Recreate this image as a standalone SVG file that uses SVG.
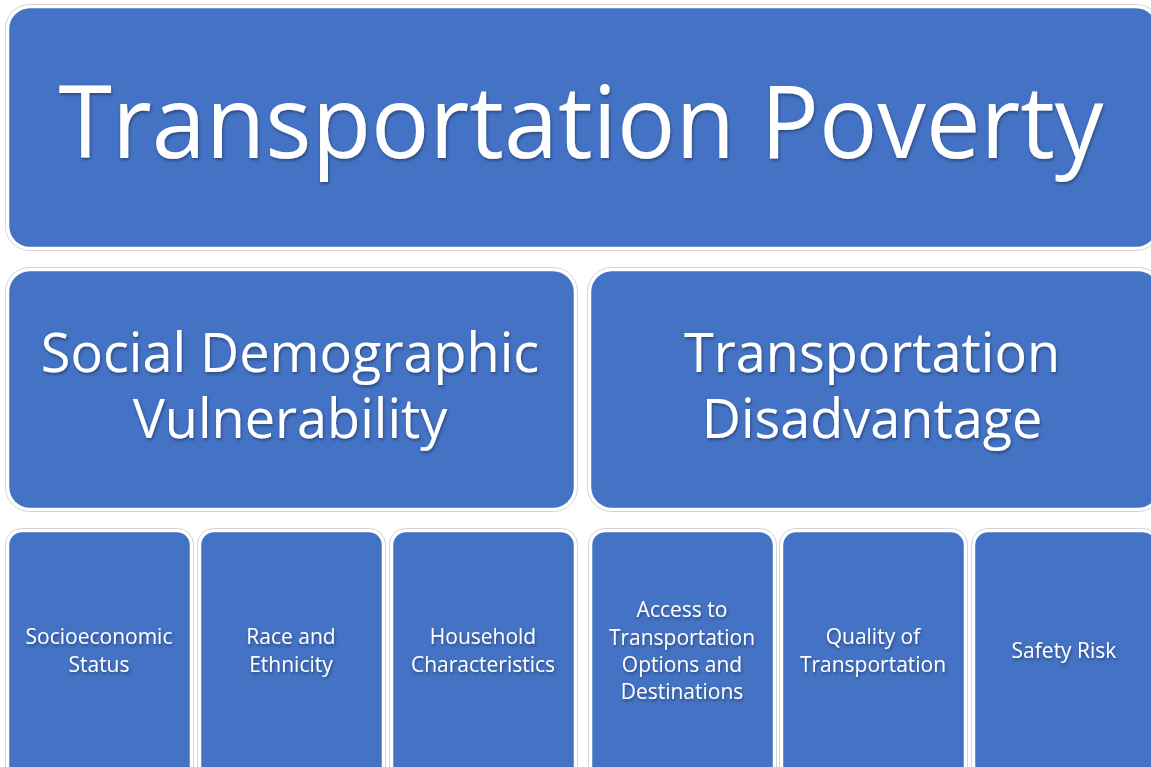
<svg xmlns="http://www.w3.org/2000/svg" width="1151" height="767" viewBox="0 0 1151 767">
  <defs>
    <filter id="ts" x="-5%" y="-20%" width="110%" height="150%">
      <feDropShadow dx="1" dy="2" stdDeviation="1.5" flood-color="#000" flood-opacity="0.35"/>
    </filter>
  </defs>
  <style>
    .box { fill: #4472C4; stroke: #ffffff; stroke-width: 2.5; }
    .halo { fill: none; stroke: #d4d4d4; stroke-width: 1; }
    text { font-family: "Open Sans", "Liberation Sans", sans-serif; fill: #ffffff; text-anchor: middle; filter: url(#ts); }
    .t0 { font-size: 100px; }
    .t1 { font-size: 54px; }
    .t2 { font-size: 21px; }
  </style>
  <rect width="1151" height="767" fill="#ffffff"/>
  <g id="connectors"></g>
  <g id="n-top">
    <rect class="halo" x="5.5" y="4.5" width="1155" height="246" rx="24"/>
    <rect class="box" x="8" y="7" width="1150" height="241" rx="22"/>
    <text class="t0" x="581" y="158" textLength="1045" lengthAdjust="spacingAndGlyphs">Transportation Poverty</text>
  </g>
  <g id="n-social">
    <rect class="halo" x="5.5" y="267.5" width="572" height="244" rx="24"/>
    <rect class="box" x="8" y="270" width="567" height="239" rx="22"/>
    <text class="t1" x="290" y="372">Social Demographic</text>
    <text class="t1" x="290" y="438">Vulnerability</text>
  </g>
  <g id="n-disadv">
    <rect class="halo" x="587.5" y="267.5" width="575" height="244" rx="24"/>
    <rect class="box" x="590" y="270" width="570" height="239" rx="22"/>
    <text class="t1" x="872" y="372">Transportation</text>
    <text class="t1" x="872" y="438">Disadvantage</text>
  </g>
  <g id="n-socio">
    <rect class="halo" x="5.5" y="528.5" width="188" height="260" rx="16"/>
    <rect class="box" x="8" y="531" width="183" height="255" rx="14"/>
    <text class="t2" x="99" y="644">Socioeconomic</text>
    <text class="t2" x="99" y="672">Status</text>
  </g>
  <g id="n-race">
    <rect class="halo" x="197.5" y="528.5" width="188" height="260" rx="16"/>
    <rect class="box" x="200" y="531" width="183" height="255" rx="14"/>
    <text class="t2" x="291" y="644">Race and</text>
    <text class="t2" x="291" y="672">Ethnicity</text>
  </g>
  <g id="n-house">
    <rect class="halo" x="389.5" y="528.5" width="188" height="260" rx="16"/>
    <rect class="box" x="392" y="531" width="183" height="255" rx="14"/>
    <text class="t2" x="483" y="644">Household</text>
    <text class="t2" x="483" y="672">Characteristics</text>
  </g>
  <g id="n-access">
    <rect class="halo" x="588.5" y="528.5" width="188" height="260" rx="16"/>
    <rect class="box" x="591" y="531" width="183" height="255" rx="14"/>
    <text class="t2" x="682" y="617">Access to</text>
    <text class="t2" x="682" y="645">Transportation</text>
    <text class="t2" x="682" y="672">Options and</text>
    <text class="t2" x="682" y="699">Destinations</text>
  </g>
  <g id="n-quality">
    <rect class="halo" x="779.5" y="528.5" width="188" height="260" rx="16"/>
    <rect class="box" x="782" y="531" width="183" height="255" rx="14"/>
    <text class="t2" x="873" y="644">Quality of</text>
    <text class="t2" x="873" y="672">Transportation</text>
  </g>
  <g id="n-safety">
    <rect class="halo" x="971.5" y="528.5" width="188" height="260" rx="16"/>
    <rect class="box" x="974" y="531" width="183" height="255" rx="14"/>
    <text class="t2" x="1064" y="658">Safety Risk</text>
  </g>
</svg>
